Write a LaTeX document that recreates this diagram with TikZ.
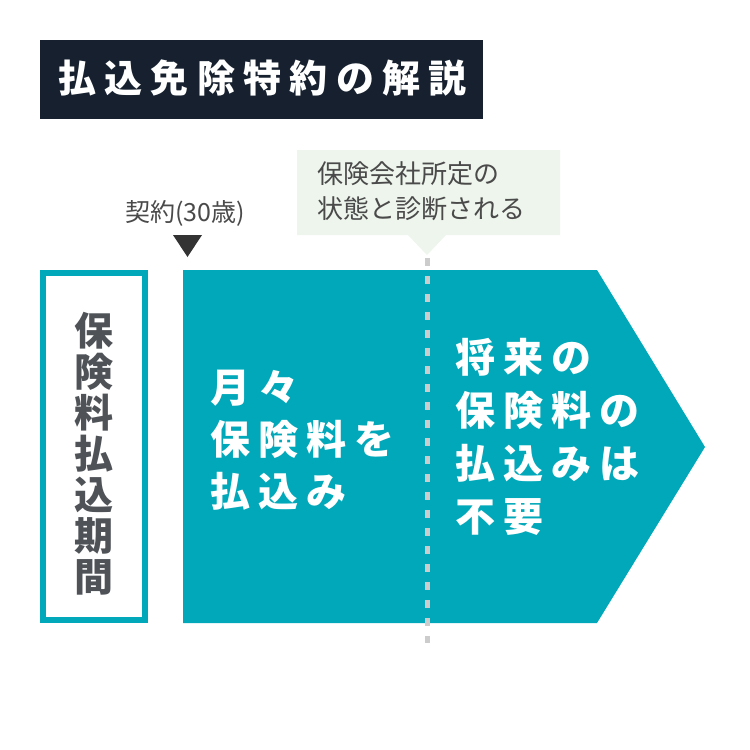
\documentclass[tikz,border=0pt]{standalone}
\usepackage{fontspec}
\newfontfamily\cjk{Noto Sans CJK JP}
\newfontfamily\cjkT[LetterSpace=22]{Noto Sans CJK JP}
\newfontfamily\cjkA[LetterSpace=20]{Noto Sans CJK JP}
\newfontfamily\cjkB[LetterSpace=20]{Noto Sans CJK JP}
\definecolor{teal1}{HTML}{00A8B9}
\definecolor{navy1}{HTML}{16202E}
\definecolor{callbg}{HTML}{EDF5EC}
\definecolor{dgray}{HTML}{4F5358}
\definecolor{tgray}{HTML}{4A4A4A}
\definecolor{dashg}{HTML}{CCCCCC}
\definecolor{tri}{HTML}{333333}
\tikzset{
  txt/.style={inner sep=0pt, outer sep=0pt},
  whitebold/.style={txt, text=white, align=left, anchor=base west},
}
\begin{document}
\begin{tikzpicture}[x=1pt,y=-1pt]
\useasboundingbox (0,0) rectangle (750,750);
\fill[white] (0,0) rectangle (750,750);
% title
\fill[navy1] (40,40) rectangle (483,119);
\node[whitebold, font={\cjkT\bfseries\fontsize{38pt}{38pt}\selectfont}] (title) at (58,92) {払込免除特約の解説};
% left box
\draw[teal1, line width=6pt] (43,273) rectangle (145,620);
\node[txt, text=dgray, align=center, anchor=base, font={\cjk\bfseries\fontsize{39pt}{41pt}\selectfont}] (period) at (94,591)
  {保\\険\\料\\払\\込\\期\\間};
% teal arrow shape
\fill[teal1] (183,270) -- (597,270) -- (705,447) -- (597,623) -- (183,623) -- cycle;
\coordinate (dtop) at (427,258);
\coordinate (dbot) at (427,643);
\draw[dashg, line width=5pt, dash pattern=on 8pt off 10pt] (dtop) -- (dbot);
% callout
\fill[callbg] (297,150) -- (560,150) -- (560,235) -- (446,235) -- (427,255) -- (408,235) -- (297,235) -- cycle;
\node[txt, text=tgray, align=left, anchor=base west, font={\cjk\fontsize{26pt}{35pt}\selectfont}] (diag) at (317,218)
  {保険会社所定の\\状態と診断される};
% contract
\node[txt, text=tgray, anchor=base, font={\cjk\fontsize{25pt}{25pt}\selectfont}] (contract) at (185,221) {契約(30歳)};
\fill[tri] (173,235) -- (202,235) -- (187.5,257) -- cycle;
% texts
\node[whitebold, font={\cjkA\bfseries\fontsize{40pt}{52pt}\selectfont}] (monthly) at (210,506) {月々\\保険料を\\払込み};
\node[whitebold, font={\cjkB\bfseries\fontsize{40pt}{53pt}\selectfont}] (future) at (455,531) {将来の\\保険料の\\払込みは\\不要};
\end{tikzpicture}
\end{document}
